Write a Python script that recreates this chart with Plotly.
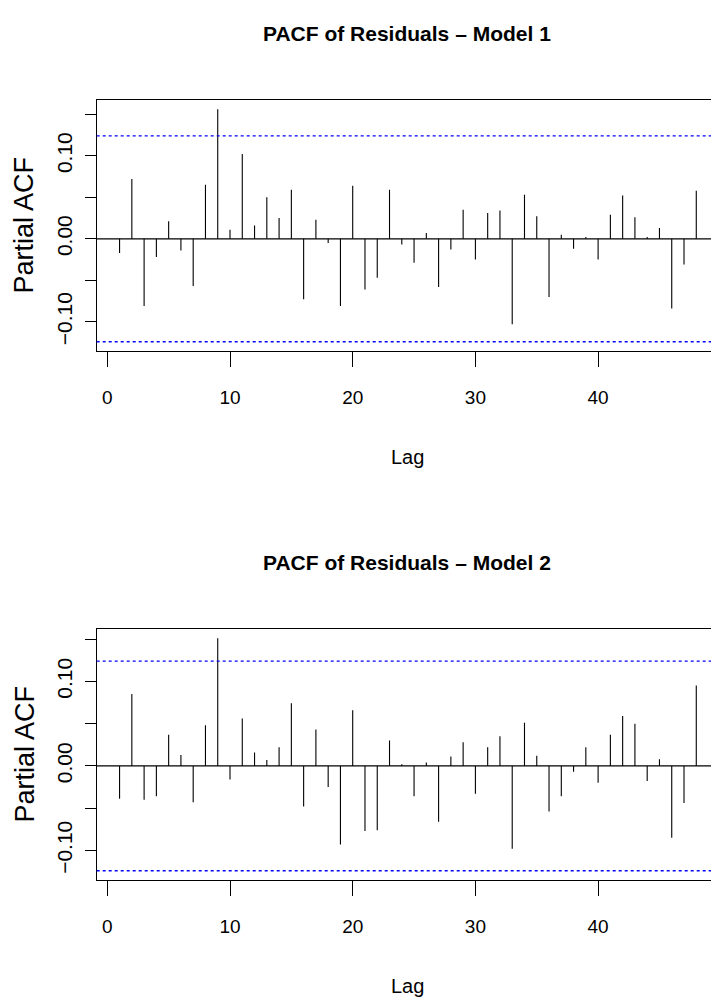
import plotly.graph_objects as go

# ---------------- data ----------------
lags = list(range(1, 49))
pacf_model1 = [-0.017, 0.072, -0.081, -0.022, 0.021, -0.014, -0.057, 0.065, 0.156, 0.011,
               0.102, 0.016, 0.050, 0.025, 0.059, -0.073, 0.023, -0.005, -0.081, 0.064,
               -0.061, -0.047, 0.059, -0.007, -0.029, 0.007, -0.058, -0.013, 0.035, -0.025,
               0.031, 0.034, -0.103, 0.053, 0.027, -0.070, 0.005, -0.012, 0.002, -0.025,
               0.029, 0.052, 0.026, 0.002, 0.013, -0.084, -0.031, 0.058]
pacf_model2 = [-0.039, 0.085, -0.040, -0.036, 0.037, 0.013, -0.043, 0.048, 0.151, -0.016,
               0.056, 0.016, 0.007, 0.022, 0.074, -0.048, 0.043, -0.025, -0.093, 0.066,
               -0.077, -0.076, 0.030, 0.002, -0.036, 0.004, -0.066, 0.011, 0.028, -0.033,
               0.022, 0.035, -0.098, 0.051, 0.012, -0.054, -0.036, -0.007, 0.022, -0.020,
               0.037, 0.059, 0.050, -0.018, 0.008, -0.085, -0.044, 0.095]
conf_limit = 0.124
titles = ["PACF of Residuals \u2013 Model 1", "PACF of Residuals \u2013 Model 2"]
x_tickvals = [0, 10, 20, 30, 40]
x_ticktext = ["0", "10", "20", "30", "40"]
y_tickvals = [-0.10, -0.05, 0.00, 0.05, 0.10, 0.15]
y_ticktext = ["\u22120.10", "", "0.00", "", "0.10", ""]
x_label = "Lag"
y_label = "Partial ACF"

# ---------------- layout geometry ----------------
W, H = 711, 999
FONT = "Liberation Sans, Arial, Helvetica, sans-serif"
plot_left = 96.7
panels_px = [(100, 351), (629, 880)]  # (top, bottom) in px
x_range = [-0.864, 49.2]


def py(px):
    return 1 - px / H


fig = go.Figure()
series = [pacf_model1, pacf_model2]

for i, vals in enumerate(series):
    xs, ys = [], []
    for lag, v in zip(lags, vals):
        xs += [lag, lag, None]
        ys += [0, v, None]
    xa = "x" if i == 0 else "x2"
    ya = "y" if i == 0 else "y2"
    fig.add_trace(go.Scatter(x=xs, y=ys, mode="lines", xaxis=xa, yaxis=ya,
                             line=dict(color="black", width=1.1), hoverinfo="skip",
                             showlegend=False))
    lo = min(-conf_limit, min(vals))
    hi = max(conf_limit, max(vals))
    ext = 0.04 * (hi - lo)
    top, bot = panels_px[i]
    axsuf = "" if i == 0 else "2"
    fig.layout["xaxis" + axsuf] = dict(
        domain=[plot_left / W, 1.0], range=x_range, anchor="y" + axsuf,
        showgrid=False, zeroline=False, showline=True, mirror=True,
        linecolor="black", linewidth=1.2, ticks="outside", ticklen=15, tickwidth=1,
        tickcolor="black", tickvals=x_tickvals, ticktext=x_ticktext,
        tickfont=dict(family=FONT, size=19, color="black"), ticklabelstandoff=14)
    fig.layout["yaxis" + axsuf] = dict(
        domain=[py(bot), py(top)], range=[lo - ext, hi + ext], anchor="x" + axsuf,
        showgrid=False, zeroline=False, showline=True, mirror=False,
        linecolor="black", linewidth=1.2, ticks="outside", ticklen=11, tickwidth=1,
        tickcolor="black", tickvals=y_tickvals, ticktext=y_ticktext, tickangle=-90,
        tickfont=dict(family=FONT, size=21, color="black"), ticklabelstandoff=4)
    # zero line and confidence limits
    fig.add_shape(type="line", xref="x" + axsuf + " domain", yref="y" + axsuf,
                  x0=0, x1=1, y0=0, y1=0, line=dict(color="black", width=1.2))
    for c in (conf_limit, -conf_limit):
        fig.add_shape(type="line", xref="x" + axsuf + " domain", yref="y" + axsuf,
                      x0=0, x1=1, y0=c, y1=c,
                      line=dict(color="#0000FF", width=1.4, dash="3px,3px"))
    # title, x label, y label
    fig.add_annotation(text="<b>" + titles[i] + "</b>", xref="paper", yref="paper",
                       x=407 / W, y=py(top - 67), showarrow=False,
                       xanchor="center", yanchor="middle",
                       font=dict(family=FONT, size=21, color="black"))
    fig.add_annotation(text=x_label, xref="paper", yref="paper",
                       x=407 / W, y=py(bot + 106), showarrow=False,
                       xanchor="center", yanchor="middle",
                       font=dict(family=FONT, size=20, color="black"))
    fig.add_annotation(text=y_label, xref="paper", yref="paper",
                       x=24 / W, y=py((top + bot) / 2), showarrow=False, textangle=-90,
                       xanchor="center", yanchor="middle",
                       font=dict(family=FONT, size=27, color="black"))

fig.update_layout(width=W, height=H, autosize=False,
                  margin=dict(l=0, r=0, t=0, b=0),
                  paper_bgcolor="white", plot_bgcolor="white")

fig.write_html("out.html")
